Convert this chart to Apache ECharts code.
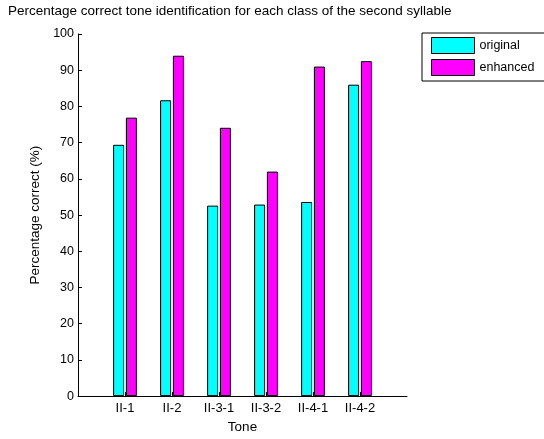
<!DOCTYPE html>
<html><head><meta charset="utf-8">
<script src="https://cdn.jsdelivr.net/npm/echarts@6/dist/echarts.min.js"></script>
<style>html,body{margin:0;padding:0;background:#fff}#c{width:544px;height:439px}</style>
</head><body><div id="c"></div>
<script>
const categories = ['II-1', 'II-2', 'II-3-1', 'II-3-2', 'II-4-1', 'II-4-2'];
const original = [69.4, 81.7, 52.6, 52.9, 53.6, 86.0];
const enhanced = [76.9, 94.0, 74.1, 62.0, 91.0, 92.5];
const yTicks = [0, 10, 20, 30, 40, 50, 60, 70, 80, 90, 100];

const FONT = 'Liberation Sans, Arial, sans-serif';
const axisData = [''].concat(categories, ['']);
const pad = arr => ['-'].concat(arr, ['-']);

const chart = echarts.init(document.getElementById('c'), null, {renderer: 'canvas'});
chart.setOption({
  animation: false,
  backgroundColor: '#fff',
  title: {
    text: 'Percentage correct tone identification for each class of the second syllable',
    left: 8, top: 4, padding: 0,
    textStyle: {fontFamily: FONT, fontSize: 13.5, fontWeight: 'normal', color: '#000'}
  },
  legend: {
    orient: 'vertical', left: 422, top: 33,
    padding: [4, 12, 5, 9], itemGap: 5,
    itemWidth: 43, itemHeight: 16,
    borderColor: '#000', borderWidth: 1, backgroundColor: '#fff',
    icon: 'rect',
    itemStyle: {borderColor: '#000', borderWidth: 1},
    textStyle: {fontFamily: FONT, fontSize: 12.5, color: '#000'},
    data: ['original', 'enhanced']
  },
  grid: {left: 78, right: 137, top: 34, bottom: 36, containLabel: false},
  xAxis: {
    type: 'category', data: axisData, boundaryGap: false,
    name: 'Tone', nameLocation: 'middle', nameGap: 22,
    nameTextStyle: {fontFamily: FONT, fontSize: 13.5, color: '#000'},
    axisLine: {lineStyle: {color: '#000', width: 1}},
    axisTick: {inside: true, length: 4, lineStyle: {color: '#000'},
      interval: (i) => i > 0 && i < axisData.length - 1},
    axisLabel: {fontFamily: FONT, fontSize: 13, color: '#000', margin: 6, interval: 0},
    splitLine: {show: false}
  },
  yAxis: {
    type: 'value', min: yTicks[0], max: yTicks[yTicks.length - 1], interval: 10,
    name: 'Percentage correct (%)', nameLocation: 'middle', nameGap: 33,
    nameTextStyle: {fontFamily: FONT, fontSize: 13.5, color: '#000'},
    axisLine: {show: true, lineStyle: {color: '#000', width: 1}},
    axisTick: {show: true, inside: true, length: 4, lineStyle: {color: '#000'}},
    axisLabel: {fontFamily: FONT, fontSize: 12.5, color: '#000', margin: 4},
    splitLine: {show: false}
  },
  series: [
    {name: 'original', type: 'bar', data: pad(original), barWidth: 11, barGap: '16%',
     itemStyle: {color: '#00FFFF', borderColor: '#000', borderWidth: 1}},
    {name: 'enhanced', type: 'bar', data: pad(enhanced), barWidth: 11,
     itemStyle: {color: '#FF00FF', borderColor: '#000', borderWidth: 1}}
  ]
});
</script></body></html>
